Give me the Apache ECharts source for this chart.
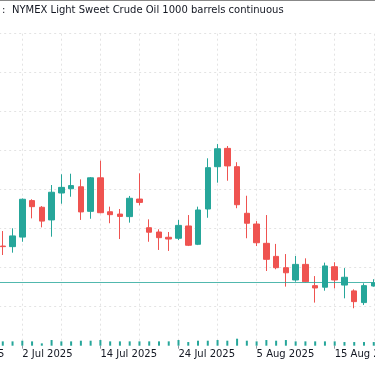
<!DOCTYPE html>
<html><head><meta charset="utf-8">
<script src="https://cdn.jsdelivr.net/npm/echarts@6/dist/echarts.min.js"></script>
<style>html,body{margin:0;padding:0;background:#fff;overflow:hidden;width:375px;height:366px;position:relative}#c{position:absolute;left:-60px;top:0;width:495px;height:366px}</style>
</head><body><div id="c"></div>
<script>
const titlePrefix = ':';
const titleText = 'NYMEX Light Sweet Crude Oil 1000 barrels continuous';
// earlier sessions, scrolled out of view on the left (only a label fragment shows)
const hiddenDates = ['20 Jun 2025','23 Jun 2025','24 Jun 2025','25 Jun 2025','26 Jun 2025','27 Jun 2025'];
const dates = ['30 Jun 2025','1 Jul 2025','2 Jul 2025','3 Jul 2025','4 Jul 2025','7 Jul 2025','8 Jul 2025','9 Jul 2025','10 Jul 2025','11 Jul 2025',
  '14 Jul 2025','15 Jul 2025','16 Jul 2025','17 Jul 2025','18 Jul 2025','21 Jul 2025','22 Jul 2025','23 Jul 2025','24 Jul 2025','25 Jul 2025',
  '28 Jul 2025','29 Jul 2025','30 Jul 2025','31 Jul 2025','1 Aug 2025','4 Aug 2025','5 Aug 2025','6 Aug 2025','7 Aug 2025','8 Aug 2025',
  '11 Aug 2025','12 Aug 2025','13 Aug 2025','14 Aug 2025','15 Aug 2025','18 Aug 2025','19 Aug 2025','20 Aug 2025','21 Aug 2025'];
const open  = [65.11,65.08,65.57,67.44,67.10,66.45,67.83,68.05,68.15,66.89,68.61,66.87,66.75,66.62,67.52,66.05,65.83,65.56,65.51,66.14,65.20,67.01,69.18,70.12,69.18,66.79,66.24,65.25,64.58,64.00,63.37,64.17,63.08,63.00,64.05,63.11,62.81,62.21,63.06];
const close = [65.08,65.63,67.51,67.13,66.39,67.87,68.12,68.21,66.86,68.61,66.82,66.72,66.63,67.56,67.35,65.82,65.54,65.47,66.17,65.15,66.96,69.13,70.10,69.22,67.23,66.28,65.28,64.43,64.00,63.74,64.17,63.28,62.96,64.09,63.37,63.51,62.26,63.08,63.23];
const low   = [64.65,64.77,65.33,66.53,66.07,65.59,67.28,67.64,66.45,66.51,66.79,66.28,65.47,66.31,67.20,65.33,64.91,64.86,65.42,65.11,65.16,66.56,68.36,68.46,67.05,65.51,65.11,63.83,63.92,63.03,63.28,63.25,62.21,62.82,62.94,62.43,61.92,62.09,63.03];
const high  = [65.88,66.02,67.55,67.51,67.16,68.24,68.79,68.82,68.53,68.65,69.49,67.13,67.01,67.68,68.84,66.48,65.97,65.83,66.45,66.70,67.13,69.61,70.34,70.24,69.41,67.69,66.39,66.70,65.22,64.70,64.60,64.48,63.57,64.26,64.28,63.98,62.89,63.20,63.41];
const volume = [260,260,300,260,140,340,260,260,300,300,340,260,260,260,260,260,260,260,340,220,300,300,340,300,420,300,260,340,300,340,260,260,260,260,260,220,220,220,220];
const priceMin = 60, priceMax = 76, priceStep = 2;

const UP = '#26a69a', DOWN = '#ef5350';
const SHIFT = 60; // the drawing surface starts 60px left of the visible window and runs 60px past it
const FONT = '"DejaVu Sans", Verdana, sans-serif';
const cats = hiddenDates.concat(dates);
const pad = hiddenDates.map(() => '-');
const candles = pad.concat(dates.map((d, i) => [open[i], close[i], low[i], high[i]]));
const vols = pad.concat(volume);
const lastClose = close[close.length - 1];
const labelEvery = 8, gridEvery = 4;

const chart = echarts.init(document.getElementById('c'), null, {renderer: 'canvas'});
chart.setOption({
  animation: false,
  backgroundColor: '#fff',
  grid: {left: SHIFT - 55.8, right: SHIFT + 1.25, top: 33.7, bottom: 20.3, containLabel: false},
  xAxis: {
    type: 'category', data: cats, boundaryGap: false,
    axisLine: {show: false},
    axisTick: {show: true, length: 3, lineStyle: {color: '#9598a1'}, interval: (i) => i % labelEvery === 0},
    axisLabel: {
      interval: (i) => i % labelEvery === 0, align: 'left', margin: 4,
      color: '#131722', fontSize: 10, fontFamily: FONT
    },
    splitLine: {show: true, interval: (i) => i % gridEvery === 0, lineStyle: {color: '#e3e3e3', type: [2, 3], width: 1}}
  },
  yAxis: [
    {type: 'value', min: priceMin, max: priceMax, interval: priceStep, position: 'right',
     axisLine: {show: false}, axisTick: {show: false}, axisLabel: {show: false},
     splitLine: {show: true, showMinLine: false, lineStyle: {color: '#e3e3e3', type: [2, 3], width: 1}}},
    {type: 'value', min: 0, max: 18720, show: false, splitLine: {show: false}}
  ],
  series: [
    {type: 'bar', yAxisIndex: 1, data: vols, barWidth: 2, itemStyle: {color: UP}, silent: true, z: 1},
    {type: 'candlestick', data: candles, barWidth: 6, clip: false, z: 3,
     itemStyle: {color: UP, color0: DOWN, borderColor: UP, borderColor0: DOWN, borderWidth: 1},
     markLine: {silent: true, symbol: ['none', 'none'], label: {show: false},
       lineStyle: {color: UP, width: 1, type: 'solid', opacity: 0.8},
       data: [{yAxis: lastClose}]}}
  ],
  graphic: [
    {type: 'line', shape: {x1: SHIFT, y1: 0.5, x2: SHIFT + 375, y2: 0.5}, style: {stroke: '#888', lineWidth: 1}},
    {type: 'text', left: SHIFT + 2, top: 5, style: {text: titlePrefix, fill: '#131722', font: '10px ' + FONT}},
    {type: 'text', left: SHIFT + 12, top: 5, style: {text: titleText, fill: '#131722', font: '10px ' + FONT}}
  ]
});
</script></body></html>
